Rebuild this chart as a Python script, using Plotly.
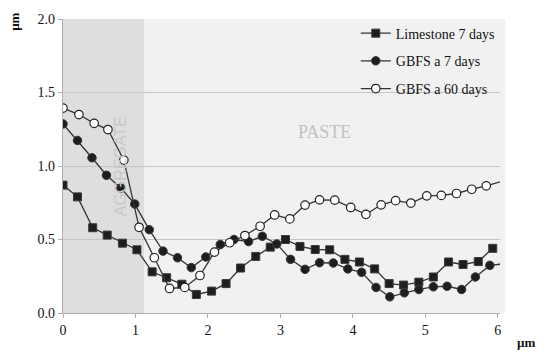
import plotly.graph_objects as go

# ---- data ----
lime_x = [0.00, 0.20, 0.41, 0.61, 0.82, 1.02, 1.23, 1.43, 1.64, 1.84, 2.05, 2.25, 2.45, 2.66, 2.86,
          3.07, 3.27, 3.48, 3.68, 3.89, 4.09, 4.30, 4.50, 4.70, 4.91, 5.11, 5.32, 5.52, 5.73, 5.93]
lime_y = [0.87, 0.79, 0.58, 0.53, 0.475, 0.43, 0.28, 0.24, 0.196, 0.126, 0.149, 0.20, 0.306, 0.385, 0.448,
          0.50, 0.453, 0.432, 0.43, 0.365, 0.347, 0.30, 0.20, 0.19, 0.21, 0.245, 0.347, 0.33, 0.35, 0.44]

g7_x = [0.00, 0.20, 0.40, 0.60, 0.80, 0.99, 1.19, 1.38, 1.58, 1.77, 1.97, 2.17, 2.36, 2.56, 2.75, 2.95,
        3.14, 3.34, 3.54, 3.73, 3.93, 4.12, 4.32, 4.51, 4.71, 4.91, 5.11, 5.30, 5.50, 5.69, 5.89, 6.09]
g7_y = [1.286, 1.174, 1.056, 0.937, 0.85, 0.741, 0.567, 0.421, 0.376, 0.309, 0.381, 0.466, 0.50, 0.486,
        0.522, 0.47, 0.365, 0.297, 0.342, 0.34, 0.30, 0.277, 0.174, 0.11, 0.137, 0.16, 0.178, 0.182,
        0.16, 0.245, 0.324, 0.335]

g60_x = [0.00, 0.22, 0.43, 0.62, 0.84, 1.05, 1.26, 1.47, 1.68, 1.89, 2.09, 2.30, 2.51, 2.72, 2.92,
         3.13, 3.34, 3.54, 3.75, 3.97, 4.18, 4.39, 4.59, 4.80, 5.02, 5.22, 5.43, 5.64, 5.84, 6.26]
g60_y = [1.394, 1.35, 1.29, 1.248, 1.04, 0.583, 0.376, 0.167, 0.174, 0.255, 0.414, 0.478, 0.527, 0.59,
         0.667, 0.64, 0.734, 0.77, 0.768, 0.718, 0.671, 0.736, 0.764, 0.748, 0.797, 0.80, 0.813, 0.842,
         0.865, 0.925]

x_ticks = [0, 1, 2, 3, 4, 5, 6]
y_ticks = [0.0, 0.5, 1.0, 1.5, 2.0]
y_tick_text = ["0.0", "0.5", "1.0", "1.5", "2.0"]
aggregate_end = 1.12

SERIF = "Liberation Serif"
LINE = "#333333"

fig = go.Figure()

fig.add_trace(go.Scatter(
    x=lime_x, y=lime_y, mode="lines+markers", name="Limestone 7 days",
    line=dict(color=LINE, width=1.3), legendgroup="a",
    marker=dict(symbol="square", size=8, color="#1e1e1e", line=dict(color="#3a3a3a", width=1))))
fig.add_trace(go.Scatter(
    x=g7_x, y=g7_y, mode="lines+markers", name="GBFS a 7 days",
    line=dict(color=LINE, width=1.3), legendgroup="b",
    marker=dict(symbol="circle", size=8.5, color="#1e1e1e", line=dict(color="#3a3a3a", width=1))))
fig.add_trace(go.Scatter(
    x=g60_x, y=g60_y, mode="lines+markers", name="GBFS a 60 days",
    line=dict(color=LINE, width=1.3), legendgroup="c",
    marker=dict(symbol="circle", size=8.5, color="white", line=dict(color="#222222", width=1.2))))

# backgrounds
fig.add_shape(type="rect", xref="paper", yref="paper", x0=0, x1=1.012, y0=0, y1=1,
              fillcolor="#f1f1f1", line=dict(width=0), layer="below")
fig.add_shape(type="rect", xref="x", yref="paper", x0=0, x1=aggregate_end, y0=0, y1=1,
              fillcolor="#dedede", line=dict(width=0), layer="below")

fig.add_annotation(x=0.79, y=1.0, xref="x", yref="y", text="AGGREGATE", textangle=-90,
                   showarrow=False, font=dict(family="Liberation Sans", size=16, color="#c8c8c8"))
fig.add_annotation(x=3.61, y=1.23, xref="x", yref="y", text="PASTE",
                   showarrow=False, font=dict(family=SERIF, size=18, color="#c2c2c2"))

fig.update_layout(
    width=550, height=358,
    margin=dict(l=63, r=50, t=17, b=45),
    paper_bgcolor="white", plot_bgcolor="rgba(0,0,0,0)",
    showlegend=True,
    legend=dict(x=0.67, y=1.005, xanchor="left", yanchor="top", bgcolor="rgba(0,0,0,0)",
                font=dict(family=SERIF, size=14, color="#111111"), tracegroupgap=6.5,
                itemwidth=30),
    font=dict(family=SERIF, size=14, color="#111111"),
)
fig.update_xaxes(range=[0, 6.03], tickvals=x_ticks, showgrid=False, zeroline=False,
                 showline=True, linecolor="#b0b0b0", linewidth=1.2,
                 ticks="outside", ticklen=4, tickcolor="#b0b0b0",
                 tickfont=dict(family=SERIF, size=14, color="#111111"))
fig.update_yaxes(range=[0, 2.0], tickvals=y_ticks, ticktext=y_tick_text, showgrid=True,
                 gridcolor="#c4c4c4", gridwidth=1, zeroline=False,
                 showline=True, linecolor="#b0b0b0", linewidth=1.2,
                 ticks="outside", ticklen=4, tickcolor="#b0b0b0",
                 tickfont=dict(family=SERIF, size=14, color="#111111"))

# axis unit labels
fig.add_annotation(x=-0.11, y=0.99, xref="paper", yref="paper", text="<b>µm</b>", textangle=-90,
                   showarrow=False, xanchor="center", yanchor="middle",
                   font=dict(family=SERIF, size=13, color="#111111"))
fig.add_annotation(x=1.06, y=-0.1, xref="paper", yref="paper", text="<b>µm</b>",
                   showarrow=False, xanchor="center", yanchor="middle",
                   font=dict(family=SERIF, size=13, color="#111111"))

fig.write_html("out.html", config={"displayModeBar": False},
               post_script="document.body.style.margin='0px';")
